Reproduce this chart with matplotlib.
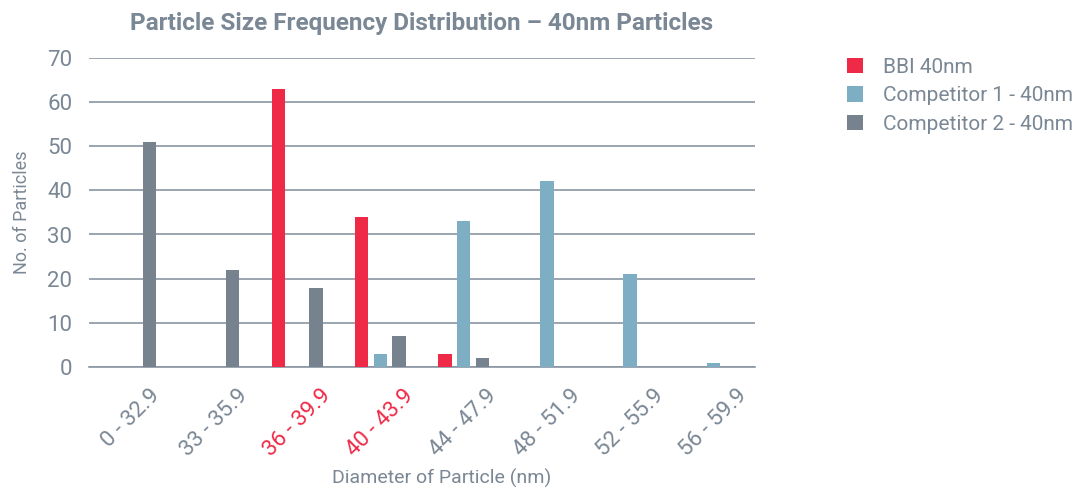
import numpy as np
import matplotlib
matplotlib.use('Agg')
import matplotlib.pyplot as plt

plt.rcParams['font.family'] = ['Roboto', 'DejaVu Sans']

# datos
categorias = ['0 - 32.9', '33 - 35.9', '36 - 39.9', '40 - 43.9',
              '44 - 47.9', '48 - 51.9', '52 - 55.9', '56 - 59.9']
bbi_40 = [0, 0, 63, 34, 3, 0, 0, 0]
comp1_40 = [0, 0, 0, 3, 33, 42, 21, 1]
comp2_40 = [51, 22, 18, 7, 2, 0, 0, 0]
series = ['BBI 40nm', 'Competitor 1 - 40nm', 'Competitor 2 - 40nm']
cats_rojas = ['36 - 39.9', '40 - 43.9']

rojo = '#ee2a47'
azul = '#7eaec4'
gris = '#76838f'
txt = '#7a8794'

fig = plt.figure(figsize=(10.78, 4.9), dpi=100)
ax = fig.add_axes([0.0826, 0.251, 0.6178, 0.631])

x = np.arange(len(categorias))
ancho = 0.16
sep = 0.225
ax.bar(x - sep, bbi_40, ancho, color=rojo, label=series[0], zorder=3)
ax.bar(x, comp1_40, ancho, color=azul, label=series[1], zorder=3)
ax.bar(x + sep, comp2_40, ancho, color=gris, label=series[2], zorder=3)

ax.set_xlim(-0.5, len(categorias) - 0.5)
ax.set_ylim(0, 70)
ax.set_yticks(np.arange(0, 71, 10))
ax.yaxis.grid(True, color='#8a96a3', linewidth=1.2, zorder=0)
for s in ['top', 'right', 'left']:
    ax.spines[s].set_visible(False)
ax.spines['bottom'].set_color('#8a96a3')
ax.spines['bottom'].set_linewidth(1.2)
ax.tick_params(axis='both', length=0, labelsize=16, colors=txt)
ax.tick_params(axis='y', pad=12)
ax.tick_params(axis='x', pad=13)

ax.set_xticks(x)
ax.set_xticklabels(categorias, rotation=45, ha='center', va='top')
for lab in ax.get_xticklabels():
    if lab.get_text() in cats_rojas:
        lab.set_color(rojo)

ax.set_ylabel('No. of Particles', fontsize=13, color=txt, labelpad=12)
ax.set_xlabel('Diameter of Particle (nm)', fontsize=14, color=txt, labelpad=6)
ax.xaxis.label.set_x(0.53)
ax.set_title('Particle Size Frequency Distribution \u2013 40nm Particles',
             fontsize=17.5, fontweight='bold', color=txt, pad=20)

leg = ax.legend(loc='upper left', bbox_to_anchor=(1.11, 1.06), frameon=False,
                fontsize=15, handlelength=0.75, handleheight=0.75,
                handletextpad=1.0, labelspacing=0.45)
for t in leg.get_texts():
    t.set_color(txt)

fig.savefig('out.png', dpi=100)
